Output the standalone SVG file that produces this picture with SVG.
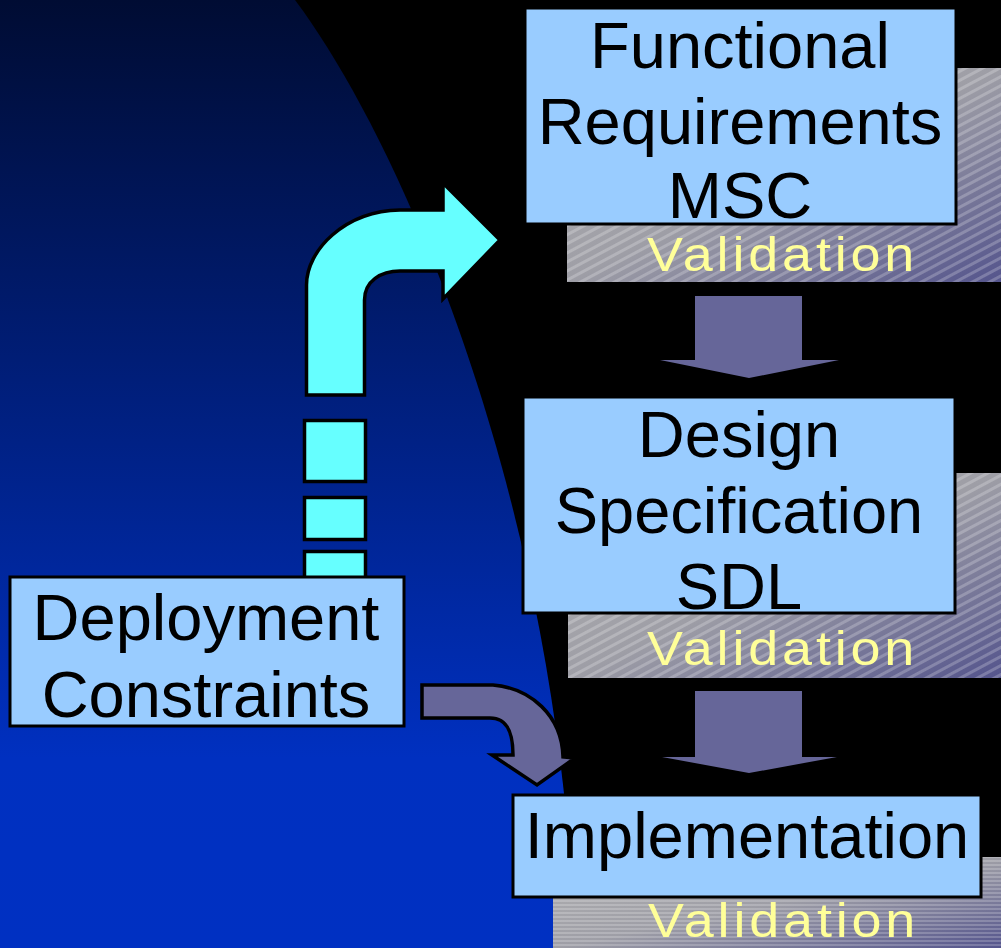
<svg xmlns="http://www.w3.org/2000/svg" width="1001" height="948" viewBox="0 0 1001 948">
  <defs>
    <linearGradient id="bgBlue" x1="0" y1="0" x2="0" y2="1">
      <stop offset="0" stop-color="#000c33"/>
      <stop offset="0.8" stop-color="#0030c0"/>
      <stop offset="1" stop-color="#0030c2"/>
    </linearGradient>
    <linearGradient id="valGrad" x1="0" y1="0" x2="1" y2="1">
      <stop offset="0" stop-color="#b2b2b2"/>
      <stop offset="0.5" stop-color="#9e9ea6"/>
      <stop offset="1" stop-color="#54548c"/>
    </linearGradient>
    <pattern id="hatch" width="8" height="8" patternUnits="userSpaceOnUse" patternTransform="rotate(-28)">
      <rect width="8" height="3" fill="#ffffff" fill-opacity="0.22"/>
    </pattern>
    <pattern id="hlines" width="4" height="4" patternUnits="userSpaceOnUse">
      <rect width="4" height="2" fill="#ffffff" fill-opacity="0.2"/>
    </pattern>
    <style>
      .box { fill: #99ccff; stroke: #000; stroke-width: 3; }
      .lbl { font-family: "Liberation Sans", Arial, sans-serif; font-size: 65px; fill: #000; text-anchor: middle; }
      .val { fill: url(#valGrad); }
      .valtxt { font-family: "Liberation Sans", Arial, sans-serif; font-size: 49px; fill: #ffff99; letter-spacing: 3.5px; }
      .cyan { fill: #66ffff; stroke: #000; stroke-width: 3.5; stroke-linejoin: miter; }
      .flow { fill: #666699; }
      .flowOut { fill: #666699; stroke: #000; stroke-width: 3.5; }
    </style>
  </defs>

  <!-- backdrop: black page with a large blue curved panel on the left -->
  <rect width="1001" height="948" fill="#000"/>
  <path d="M0,0 L295,0 C400,140 560,500 575,948 L0,948 Z" fill="url(#bgBlue)"/>

  <!-- validation panels sitting behind each stage -->
  <g id="validation1">
    <rect class="val" x="567" y="68" width="434" height="214"/>
    <rect x="567" y="68" width="434" height="214" fill="url(#hatch)"/>
    <text class="valtxt" transform="translate(647,271) scale(1.1,1)">Validation</text>
  </g>
  <g id="validation2">
    <rect class="val" x="568" y="473" width="433" height="205"/>
    <rect x="568" y="473" width="433" height="205" fill="url(#hatch)"/>
    <text class="valtxt" transform="translate(647,665) scale(1.1,1)">Validation</text>
  </g>
  <g id="validation3">
    <rect class="val" x="553" y="857" width="448" height="91"/>
    <rect x="553" y="857" width="448" height="91" fill="url(#hlines)"/>
    <text class="valtxt" transform="translate(648,937) scale(1.1,1)">Validation</text>
  </g>

  <!-- connectors -->
  <g id="connectors">
    <!-- dashed cyan feed from deployment constraints up to requirements -->
    <rect class="cyan" x="304.5" y="551.5" width="61" height="40"/>
    <rect class="cyan" x="304.5" y="497.5" width="61" height="42"/>
    <rect class="cyan" x="304.5" y="420.5" width="61" height="61"/>
    <path class="cyan" d="M306.5,395 L306.5,285 C306.5,250 345,211 400,210 L443,210 L443,183 L500,240 L443,299 L443,271 L400,271 C381,271 364.5,281 364.5,300 L364.5,395 Z"/>
    <!-- stage-to-stage flow -->
    <path class="flow" d="M695,296 L802,296 L802,360 L839,360 L749,378 L660,360 L695,360 Z"/>
    <path class="flow" d="M695,691 L802,691 L802,757 L837,757 L749,773 L662,757 L695,757 Z"/>
    <!-- constraints into implementation -->
    <path class="flowOut" d="M422,685 L493,685 C530,688 562,715 563,757 L575,758 L537,785 L492,755 L513,755 C513,730 506,718 490,718 L422,718 Z"/>
  </g>

  <g id="functional-requirements">
    <rect class="box" x="525" y="8" width="431" height="216"/>
    <text class="lbl" x="740" y="68">Functional</text>
    <text class="lbl" x="740" y="144">Requirements</text>
    <text class="lbl" x="740" y="218">MSC</text>
  </g>

  <g id="design-specification">
    <rect class="box" x="523" y="397" width="432" height="216"/>
    <text class="lbl" x="739" y="457">Design</text>
    <text class="lbl" x="739" y="533">Specification</text>
    <text class="lbl" x="739" y="609">SDL</text>
  </g>

  <g id="implementation">
    <rect class="box" x="513" y="795" width="468" height="102"/>
    <text class="lbl" x="747" y="858">Implementation</text>
  </g>

  <g id="deployment-constraints">
    <rect class="box" x="10" y="577" width="394" height="149"/>
    <text class="lbl" x="206" y="640">Deployment</text>
    <text class="lbl" x="206" y="717">Constraints</text>
  </g>
</svg>
